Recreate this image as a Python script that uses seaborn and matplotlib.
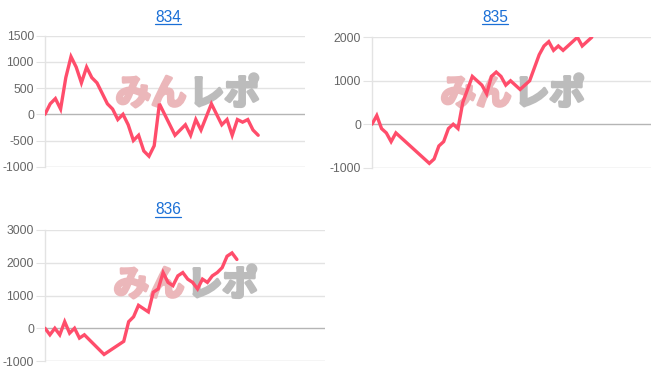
import matplotlib
matplotlib.use("Agg")
import matplotlib.pyplot as plt
from matplotlib.lines import Line2D
import matplotlib.patheffects as pe
import numpy as np
import pandas as pd
import seaborn as sns

# ---------------- data ----------------
titles = ["834", "835", "836"]

series_834 = [0, 200, 300, 100, 700, 1100, 900, 600, 900, 700, 600, 400, 200, 100,
              -100, 0, -200, -500, -400, -700, -800, -600, 200, 0, -200, -400, -300,
              -200, -400, -100, -300, -50, 200, 0, -200, -100, -400, -100, -150, -100,
              -300, -400]

series_835 = [0, 200, -100, -200, -400, -200, -300, -400, -500, -600, -700, -800, -900,
              -800, -500, -400, -100, 0, -100, 500, 800, 1100, 1000, 900, 700, 1100,
              1200, 1100, 900, 1000, 900, 800, 900, 1000, 1300, 1600, 1800, 1900, 1700,
              1800, 1700, 1800, 1900, 2000, 1800, 1900, 2000]

series_836 = [0, -200, 0, -200, 200, -150, 0, -300, -200, -350, -500, -650, -800, -700,
              -600, -500, -400, 200, 350, 700, 600, 500, 1100, 1200, 1700, 1400, 1300,
              1600, 1700, 1500, 1400, 1200, 1500, 1400, 1600, 1700, 1850, 2200, 2300,
              2100]

yticks_834 = [-1000, -500, 0, 500, 1000, 1500]
yticks_835 = [-1000, 0, 1000, 2000]
yticks_836 = [-1000, 0, 1000, 2000, 3000]

watermark_a = "みん"
watermark_b = "レポ"

# ---------------- style ----------------
sns.set_theme(style="white")
plt.rcParams["font.family"] = ["Liberation Sans", "DejaVu Sans"]
plt.rcParams["axes.unicode_minus"] = False

W, H = 652, 382
fig = plt.figure(figsize=(W / 100, H / 100), dpi=100)
fig.patch.set_facecolor("white")

LINE = "#ff4d6b"
GRID = "#e3e3e3"
ZERO = "#b5b5b5"
BOTTOM = "#cccccc"
TICKC = "#666666"
TITLEC = "#1a6fd6"
WM_PINK = "#ebb7ba"
WM_GRAY = "#bcbcbc"

panels = [
    # title, data, ticks, (left, right, top, bottom) px, xmax, title center, watermark center
    (titles[0], series_834, yticks_834, (45, 305, 35.7, 166.7), 50.0, (168, 17), (187, 94)),
    (titles[1], series_835, yticks_835, (372, 651, 37.3, 167.7), 58.4, (495, 17.5), (512, 94)),
    (titles[2], series_836, yticks_836, (45, 325, 230, 361), 56.9, (168, 210), (185, 285)),
]

for title, data, ticks, (l, r, t, b), xmax, (tx, ty), (wx, wy) in panels:
    ax = fig.add_axes([l / W, 1 - b / H, (r - l) / W, (b - t) / H])
    df = pd.DataFrame({"x": np.arange(len(data)), "y": data})
    sns.lineplot(data=df, x="x", y="y", ax=ax, color=LINE, linewidth=2.4, zorder=3)
    ax.lines[-1].set_solid_joinstyle("miter")
    ax.set_xlim(0, xmax)
    ax.set_ylim(ticks[0], ticks[-1])
    ax.set_yticks(ticks)
    ax.set_yticklabels([str(v) for v in ticks])
    ax.set_xticks([])
    ax.set_xlabel("")
    ax.set_ylabel("")
    ax.set_facecolor("white")
    for v in ticks:
        if v == 0:
            c = ZERO
        elif v == ticks[0]:
            c = BOTTOM
        else:
            c = GRID
        ax.axhline(v, color=c, linewidth=1, zorder=1)
    for s in ["top", "right", "bottom"]:
        ax.spines[s].set_visible(False)
    ax.spines["left"].set_color(GRID)
    ax.spines["left"].set_linewidth(1)
    ax.tick_params(axis="y", direction="out", length=6.5, width=0.8, color=GRID,
                   labelcolor=TICKC, labelsize=8.7, pad=1.5, left=True)

    # watermark (logo-like text)
    ax.text(wx / W - 0.001, 1 - wy / H, watermark_a, transform=fig.transFigure,
            ha="right", va="center", fontsize=25.5, fontweight="bold",
            family=["Noto Sans CJK JP"], color=WM_PINK, zorder=2,
            path_effects=[pe.withStroke(linewidth=2.2, foreground=WM_PINK)])
    ax.text(wx / W + 0.003, 1 - wy / H, watermark_b, transform=fig.transFigure,
            ha="left", va="center", fontsize=25.5, fontweight="bold",
            family=["Noto Sans CJK JP"], color=WM_GRAY, zorder=2,
            path_effects=[pe.withStroke(linewidth=2.2, foreground=WM_GRAY)])

    # title with underline
    fig.text(tx / W, 1 - ty / H, title, ha="center", va="center", fontsize=11.2,
             color=TITLEC)
    uw = 26
    fig.add_artist(Line2D([(tx - uw / 2) / W, (tx + uw / 2) / W],
                          [1 - (ty + 6.5) / H, 1 - (ty + 6.5) / H],
                          color=TITLEC, linewidth=0.9, transform=fig.transFigure))

fig.savefig("out.png", dpi=100, facecolor="white")
